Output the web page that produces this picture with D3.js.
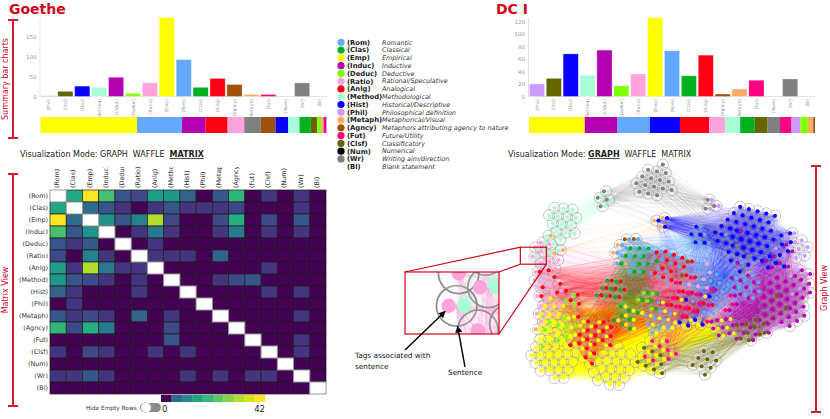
<!DOCTYPE html>
<html>
<head>
<meta charset="utf-8">
<script src="https://cdn.jsdelivr.net/npm/d3@7"></script>
<title>Goethe / DC I</title>
<style>
  body { margin: 0; background: #fff; }
  svg { font-family: "DejaVu Sans", Verdana, sans-serif; }
</style>
</head>
<body>
<svg id="chart" width="830" height="419"></svg>
<script>
// ---- data ---------------------------------------------------------------
const tagKeys = ["Rom","Clas","Emp","Induc","Deduc","Ratio","Anlg","Method","Hist","Phil","Metaph","Agncy","Fut","Clsf","Num","Wr","Bl"];
const tagNames = ["Romantic","Classical","Empirical","Inductive","Deductive","Rational/Speculative","Analogical",
  "Methodological","Historical/Descriptive","Philosophical definition","Metaphorical/Visual",
  "Metaphors attributing agency to nature","Future/Utility","Classificatory","Numerical","Writing aim/direction","Blank statement"];
const tagColors = ["#63aaff","#00b01e","#ffff00","#b300b3","#80ff00","#ffa3dc","#ff0014","#a8ffd6","#0a00ff",
  "#cc99ff","#ffad66","#a0520a","#ff0080","#666600","#000000","#808080","#ffffff"];

// bar order of the summary charts
const barOrder = ["Phil","Clsf","Hist","Method","Induc","Deduc","Ratio","Emp","Rom","Clas","Anlg","Agncy","Metaph","Fut","Num","Wr","Bl"];
const goetheCounts = [2,13,26,23,48,8,34,197,92,23,45,30,5,5,0,34,0];
const dc1Counts    = [20,29,68,34,74,17,36,126,73,33,66,4,12,26,0,28,0];

// Goethe co-occurrence matrix, rows/cols in tagKeys order
const coMatrix = [
  [0,15,42,21,3,2,13,12,4,0,3,18,0,1,0,1,0],
  [15,0,5,3,1,0,1,3,1,1,1,2,0,0,0,1,0],
  [42,5,0,11,3,8,33,2,0,0,2,16,0,2,0,3,0],
  [21,3,11,0,0,1,7,1,0,0,1,7,0,1,0,1,0],
  [3,1,3,0,0,0,1,0,0,0,0,0,0,0,0,0,0],
  [2,0,8,1,0,0,1,1,1,0,4,0,0,0,0,0,0],
  [13,1,33,7,1,1,0,0,0,0,0,0,0,1,0,0,0],
  [12,3,2,1,0,1,0,0,0,0,1,2,3,0,0,0,0],
  [4,1,0,0,0,1,0,0,0,0,0,0,0,1,0,1,0],
  [0,1,0,0,0,0,0,0,0,0,0,0,0,0,0,0,0],
  [3,1,2,1,0,4,0,1,0,0,0,0,0,0,0,1,0],
  [18,2,16,7,0,0,0,2,0,0,0,0,0,0,0,0,0],
  [0,0,0,0,0,0,0,3,0,0,0,0,0,0,0,1,0],
  [1,0,2,1,0,0,1,0,1,0,0,0,0,0,0,1,0],
  [0,0,0,0,0,0,0,0,0,0,0,0,0,0,0,0,0],
  [1,1,3,1,0,0,0,0,1,0,1,0,1,1,0,0,0],
  [0,0,0,0,0,0,0,0,0,0,0,0,0,0,0,0,0]
];
const matrixMax = 42;

// DC I sentence graph: groups of sentences sharing the same tags
const groupTags = [
  ["Wr"],["Wr","Method"],["Wr","Phil"],["Hist","Wr"],
  ["Method"],["Ratio","Method"],["Method","Metaph"],
  ["Hist"],["Hist","Induc"],["Hist","Phil"],["Hist","Rom"],
  ["Phil"],["Phil","Induc"],
  ["Induc"],["Induc","Rom"],["Induc","Clsf"],["Induc","Emp"],
  ["Rom","Clas"],["Rom","Anlg"],["Rom","Emp"],["Rom","Ratio"],["Rom"],
  ["Clas","Anlg"],["Clas","Emp"],
  ["Ratio","Anlg"],["Ratio"],["Ratio","Emp"],
  ["Deduc","Emp"],["Deduc","Clas"],["Deduc","Anlg"],
  ["Emp"],["Emp"],["Emp","Anlg"],["Emp","Fut"],["Emp","Clsf"],["Emp","Hist"],
  ["Fut","Anlg"],["Fut","Induc"],
  ["Clsf"],["Clsf","Induc"],
  ["Metaph","Emp"],["Metaph","Rom"],["Metaph","Hist"],
  ["Agncy","Rom"],["Agncy","Anlg"]
];
const groupSizes = [16,4,3,3, 14,4,3, 38,8,4,6, 6,5, 28,10,6,6, 12,12,10,6,12, 8,8, 8,8,8, 9,5,3,
  20,20,20,8,8,6, 12,6, 9,6, 3,3,3, 2,2];

// ---- layout -------------------------------------------------------------
const RED = "#d0021b";
const svg = d3.select("#chart");
const colorOf = k => tagColors[tagKeys.indexOf(k)];

// where each sentence group is pulled to in the graph view
const groupAnchors = [
  [655,182],[605,199],[712,205],[742,256],
  [563,222],[542,244],[557,252],
  [748,233],[775,258],[790,240],[700,236],
  [798,250],[798,282],
  [788,300],[745,285],[745,333],[722,322],
  [638,260],[668,266],[662,318],[702,278],[712,294],
  [612,290],[628,318],
  [550,287],[547,266],[550,310],
  [562,333],[650,300],[574,300],
  [555,360],[612,366],[592,340],[662,350],[648,362],[690,318],
  [690,302],[722,302],
  [706,362],[765,326],
  [540,330],[620,250],[662,222],
  [632,240],[690,262]
];

// range markers
function marker(x, y0, y1, label, tx, ty) {
  const g = svg.append("g").attr("stroke", RED).attr("stroke-width", 1.8);
  g.append("line").attr("x1", x).attr("x2", x).attr("y1", y0).attr("y2", y1);
  g.append("line").attr("x1", x - 5).attr("x2", x + 5).attr("y1", y0).attr("y2", y0);
  g.append("line").attr("x1", x - 5).attr("x2", x + 5).attr("y1", y1).attr("y2", y1);
  svg.append("text").attr("transform", `translate(${tx},${ty}) rotate(-90)`)
    .attr("text-anchor", "middle").attr("font-size", 8).attr("fill", RED).text(label);
}
marker(13, 20, 138, "Summary bar charts", 7.5, 79);
marker(13, 174, 406, "Matrix View", 7.5, 290);
marker(816, 166, 412, "Graph View", 827, 288);

function modeLine(x, active) {
  const t = svg.append("text").attr("x", x).attr("y", 157).attr("font-size", 8).attr("fill", "#222");
  t.append("tspan").text("Visualization Mode: ");
  ["GRAPH", "WAFFLE", "MATRIX"].forEach((m, i) => {
    const s = t.append("tspan").attr("dx", i ? 5 : 0).text(m);
    if (m === active) s.attr("font-weight", "bold").attr("text-decoration", "underline");
  });
}

function summary(counts, left, right, title, titleX, modeX, active) {
  const g = svg.append("g");
  g.append("text").attr("x", titleX).attr("y", 14).attr("font-size", 14)
    .attr("font-weight", "bold").attr("fill", RED).text(title);

  const x = d3.scaleBand().domain(barOrder).range([left, right]).paddingInner(0.1).paddingOuter(0.02);
  const y = d3.scaleLinear().domain([0, d3.max(counts)]).range([96.5, 17.5]);

  const ya = g.append("g").attr("transform", `translate(${left - 1},0)`)
    .call(d3.axisLeft(y).ticks(5).tickSize(0).tickPadding(3));
  ya.attr("font-family", null);
  ya.select(".domain").attr("stroke", "#e2e2e2");
  ya.selectAll("text").attr("fill", "#999").attr("font-size", 5.5);

  g.append("line").attr("x1", left - 1).attr("x2", right).attr("y1", 96.5).attr("y2", 96.5)
    .attr("stroke", "#e2e2e2");

  g.selectAll("rect.bar").data(barOrder).join("rect")
    .attr("x", k => x(k)).attr("width", x.bandwidth())
    .attr("y", (k, i) => y(counts[i])).attr("height", (k, i) => y(0) - y(counts[i]))
    .attr("fill", k => colorOf(k)).attr("stroke", "#fff").attr("stroke-opacity", 0.55).attr("stroke-width", 0.6);

  g.selectAll("text.xl").data(barOrder).join("text")
    .attr("transform", k => `translate(${x(k) + x.bandwidth() / 2},99) rotate(-90)`)
    .attr("text-anchor", "end").attr("dy", "0.35em").attr("font-size", 4.5).attr("fill", "#999")
    .text(k => `(${k})`);

  // stacked strip, largest first
  const parts = barOrder.map((k, i) => ({ k, v: counts[i] })).filter(d => d.v > 0)
    .sort((a, b) => b.v - a.v);
  const xs = d3.scaleLinear().domain([0, d3.sum(parts, d => d.v)]).range([left, right]);
  let acc = 0;
  parts.forEach(d => { d.x0 = acc; acc += d.v; d.x1 = acc; });
  g.selectAll("rect.strip").data(parts).join("rect")
    .attr("x", d => xs(d.x0)).attr("width", d => xs(d.x1) - xs(d.x0))
    .attr("y", 117).attr("height", 16).attr("fill", d => colorOf(d.k));

  modeLine(modeX, active);
}
summary(goetheCounts, 40.5, 327, "Goethe", 9, 20, "MATRIX");
summary(dc1Counts, 529, 815, "DC I", 496, 508, "GRAPH");

// legend
const lg = svg.append("g");
const ly = d3.scaleLinear().domain([0, tagKeys.length - 1]).range([42.3, 166.7]);
tagKeys.forEach((k, i) => {
  if (k !== "Bl") lg.append("circle").attr("cx", 341).attr("cy", ly(i)).attr("r", 3.6).attr("fill", tagColors[i]);
  lg.append("text").attr("x", 347).attr("y", ly(i)).attr("dy", "0.35em").attr("font-size", 6.8)
    .attr("font-weight", "bold").attr("fill", "#222").text(`(${k})`);
  lg.append("text").attr("x", 382).attr("y", ly(i)).attr("dy", "0.35em").attr("font-size", 6.4)
    .attr("font-style", "italic").attr("fill", "#333").text(tagNames[i]);
});

// ---- matrix view --------------------------------------------------------
const mx = d3.scaleBand().domain(tagKeys).range([50, 326]);
const my = d3.scaleBand().domain(tagKeys).range([190, 394]);
const mColor = d3.scaleSequentialSqrt(d3.interpolateViridis).domain([0, matrixMax]);
const mg = svg.append("g");
const cells = [];
coMatrix.forEach((row, r) => row.forEach((v, c) => cells.push({ r, c, v })));
mg.selectAll("rect").data(cells).join("rect")
  .attr("x", d => mx(tagKeys[d.c])).attr("y", d => my(tagKeys[d.r]))
  .attr("width", mx.bandwidth()).attr("height", my.bandwidth())
  .attr("fill", d => d.r === d.c ? "#fff" : mColor(d.v))
  .attr("stroke", d => d.r === d.c ? "#999" : "#1e1e1e").attr("stroke-width", d => d.r === d.c ? 1 : 0.7);
mg.selectAll("rect").filter(d => d.r === d.c).raise();

mg.selectAll("text.row").data(tagKeys).join("text")
  .attr("x", 48).attr("y", k => my(k) + my.bandwidth() / 2).attr("dy", "0.35em")
  .attr("text-anchor", "end").attr("font-size", 6.4).attr("fill", "#333").text(k => `(${k})`);

svg.append("clipPath").attr("id", "colclip").append("rect")
  .attr("x", 40).attr("y", 167).attr("width", 300).attr("height", 25);
mg.append("g").attr("clip-path", "url(#colclip)")
  .selectAll("text").data(tagKeys).join("text")
  .attr("transform", k => `translate(${mx(k) + mx.bandwidth() / 2 + 1},188) rotate(-90)`)
  .attr("font-size", 6.4).attr("fill", "#333").text(k => `(${k})`);

// color legend + toggle
const steps = d3.range(10).map(i => i * matrixMax / 9);
const cb = d3.scaleBand().domain(d3.range(10)).range([161, 265]);
svg.append("g").selectAll("rect").data(steps).join("rect")
  .attr("x", (d, i) => cb(i)).attr("width", cb.bandwidth() + 0.3).attr("y", 395).attr("height", 7)
  .attr("fill", d => mColor(d));
svg.append("text").attr("x", 162).attr("y", 412).attr("font-size", 8.5).attr("fill", "#222").text("0");
svg.append("text").attr("x", 265).attr("y", 412).attr("text-anchor", "end").attr("font-size", 8.5)
  .attr("fill", "#222").text(matrixMax);
svg.append("text").attr("x", 86).attr("y", 410).attr("font-size", 5.8).attr("fill", "#333").text("Hide Empty Rows");
svg.append("rect").attr("x", 140).attr("y", 403).attr("width", 21).attr("height", 9).attr("rx", 4.5).attr("fill", "#8a8a8a");
svg.append("circle").attr("cx", 146).attr("cy", 407.5).attr("r", 5).attr("fill", "#fff")
  .attr("stroke", "#ccc").attr("stroke-width", 0.6);

// ---- graph view ---------------------------------------------------------
const nodes = [];
groupTags.forEach((tags, gi) => { for (let i = 0; i < groupSizes[gi]; i++) nodes.push({ g: gi, tags }); });
const sim = d3.forceSimulation(nodes)
  .force("x", d3.forceX(d => groupAnchors[d.g][0]).strength(0.09))
  .force("y", d3.forceY(d => groupAnchors[d.g][1]).strength(0.09))
  .force("collide", d3.forceCollide(4.5).iterations(2))
  .stop();
for (let i = 0; i < 300; i++) sim.tick();

const links = [];
const tagOrder = barOrder.map((k, i) => ({ k, v: dc1Counts[i] })).sort((a, b) => b.v - a.v).map(d => d.k);
tagOrder.forEach(k => {
  const m = nodes.filter(n => n.tags.includes(k));
  for (let i = 0; i < m.length; i++) for (let j = i + 1; j < m.length; j++) links.push({ s: m[i], t: m[j], k });
});

const graph = svg.append("g").attr("id", "graph");
graph.append("g").selectAll("line").data(links).join("line")
  .attr("x1", d => d.s.x).attr("y1", d => d.s.y).attr("x2", d => d.t.x).attr("y2", d => d.t.y)
  .attr("stroke", d => colorOf(d.k)).attr("stroke-opacity", 0.17).attr("stroke-width", 0.45);
graph.append("g").selectAll("circle").data(nodes).join("circle")
  .attr("cx", d => d.x).attr("cy", d => d.y).attr("r", 5.6)
  .attr("fill", "#fff").attr("fill-opacity", 0.12).attr("stroke", "#8f8f8f").attr("stroke-width", 0.5);
const dots = [];
nodes.forEach(n => n.tags.forEach((k, j) => dots.push({ n, k, off: (j - (n.tags.length - 1) / 2) * 4.4 })));
graph.append("g").selectAll("circle").data(dots).join("circle")
  .attr("cx", d => d.n.x + d.off).attr("cy", d => d.n.y).attr("r", 2).attr("fill", d => colorOf(d.k));

// zoom callout on one Ratio/Method sentence
const pick = nodes.filter(n => n.g === 5).sort((a, b) => a.x - b.x)[0];
const big = { x: 405, y: 272, w: 94, h: 62 };
const sw = 26, sh = 17;
const small = { x: pick.x - 0.55 * sw, y: pick.y - 0.55 * sh, w: sw, h: sh };
const k = big.w / sw;
svg.append("clipPath").attr("id", "insetclip").append("rect")
  .attr("x", big.x).attr("y", big.y).attr("width", big.w).attr("height", big.h);
const inset = svg.append("g").attr("clip-path", "url(#insetclip)");
inset.append("rect").attr("x", big.x).attr("y", big.y).attr("width", big.w).attr("height", big.h).attr("fill", "#fff");
inset.append("use").attr("href", "#graph")
  .attr("transform", `translate(${big.x},${big.y}) scale(${k}) translate(${-small.x},${-small.y})`);

const cg = svg.append("g").attr("stroke", RED).attr("stroke-width", 1.2).attr("fill", "none");
cg.append("rect").attr("x", big.x).attr("y", big.y).attr("width", big.w).attr("height", big.h);
cg.append("rect").attr("x", small.x).attr("y", small.y).attr("width", small.w).attr("height", small.h);
cg.append("line").attr("x1", big.x).attr("y1", big.y).attr("x2", small.x).attr("y2", small.y);
cg.append("line").attr("x1", big.x + big.w).attr("y1", big.y).attr("x2", small.x).attr("y2", small.y + small.h);
cg.append("line").attr("x1", small.x + small.w).attr("y1", small.y + small.h).attr("x2", big.x + big.w).attr("y2", big.y + big.h);

// annotations
const toBig = (px, py) => [big.x + (px - small.x) * k, big.y + (py - small.y) * k];
const [cx, cy] = toBig(pick.x, pick.y);
const [dx0, dy0] = toBig(pick.x - 2.2, pick.y);
svg.append("defs").append("marker").attr("id", "arrow").attr("viewBox", "0 0 10 10")
  .attr("refX", 8).attr("refY", 5).attr("markerWidth", 5).attr("markerHeight", 5).attr("orient", "auto")
  .append("path").attr("d", "M0,0L10,5L0,10z").attr("fill", "#000");
const ag = svg.append("g").attr("stroke", "#000").attr("stroke-width", 1.4);
ag.append("line").attr("x1", 405).attr("y1", 350).attr("x2", dx0 - 4).attr("y2", dy0 + 6).attr("marker-end", "url(#arrow)");
ag.append("line").attr("x1", 465).attr("y1", 367).attr("x2", cx + 1).attr("y2", cy + 21).attr("marker-end", "url(#arrow)");
svg.append("text").attr("x", 355).attr("y", 358).attr("font-size", 7.3).attr("fill", "#111").text("Tags associated with");
svg.append("text").attr("x", 355).attr("y", 369).attr("font-size", 7.3).attr("fill", "#111").text("sentence");
svg.append("text").attr("x", 448).attr("y", 375).attr("font-size", 7.3).attr("fill", "#111").text("Sentence");
</script>
</body>
</html>
